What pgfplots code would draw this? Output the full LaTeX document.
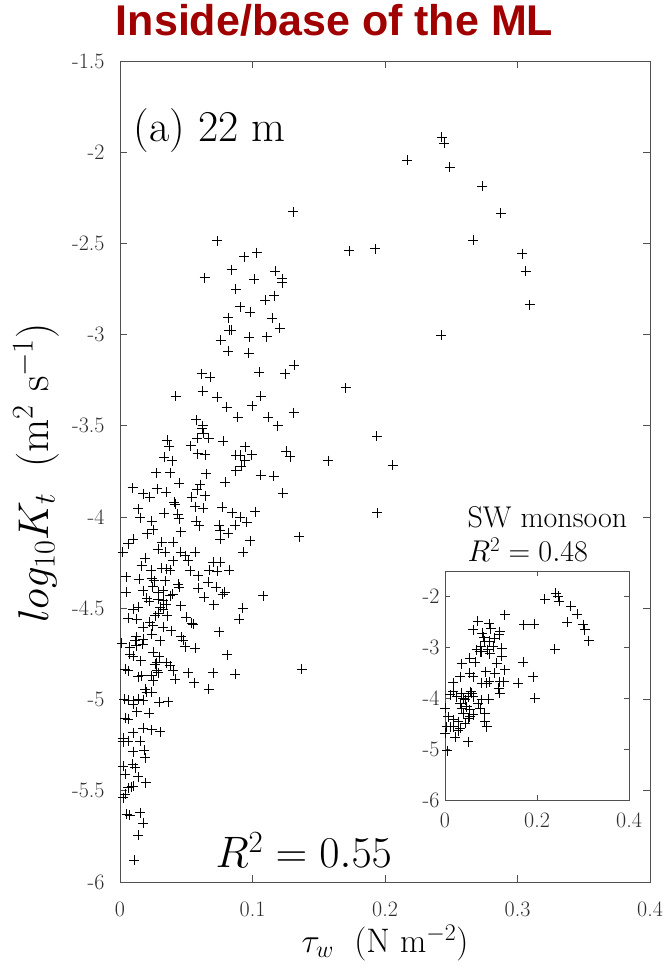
\RequirePackage{fix-cm}
\documentclass[border=0pt]{standalone}
\usepackage{pgfplots}
\pgfplotsset{compat=1.18}
\usepackage{fontspec}
\newfontfamily\titlefont{Liberation Sans}
\definecolor{titlered}{RGB}{160,0,0}
\definecolor{axgray}{RGB}{80,80,80}
\definecolor{lblgray}{RGB}{45,45,45}

\pgfplotstableread{
x y
0.2428 -1.919
0.2445 -1.952
0.2168 -2.043
0.2488 -2.083
0.2735 -2.186
0.2875 -2.333
0.2664 -2.481
0.1731 -2.541
0.1927 -2.528
0.3036 -2.556
0.3062 -2.651
0.3092 -2.835
0.2423 -3.004
0.1308 -2.327
0.0734 -2.486
0.0938 -2.574
0.1031 -2.550
0.0843 -2.643
0.0639 -2.687
0.1011 -2.695
0.1172 -2.653
0.1223 -2.693
0.1225 -2.715
0.0873 -2.751
0.1165 -2.786
0.1097 -2.812
0.0906 -2.848
0.0981 -2.877
0.0818 -2.907
0.1147 -2.911
0.1205 -2.964
0.0825 -2.976
0.0838 -2.976
0.0976 -3.013
0.1109 -3.011
0.0760 -3.031
0.0818 -3.092
0.0971 -3.101
0.0616 -3.214
0.0679 -3.233
0.1052 -3.207
0.1245 -3.214
0.1313 -3.168
0.0420 -3.337
0.0624 -3.310
0.0734 -3.343
0.0805 -3.397
0.0996 -3.390
0.1062 -3.337
0.0888 -3.452
0.1117 -3.452
0.1311 -3.428
0.1190 -3.500
0.0574 -3.467
0.0624 -3.498
0.0619 -3.516
0.0629 -3.540
0.0669 -3.567
0.0584 -3.567
0.0780 -3.584
0.0357 -3.580
0.0370 -3.611
0.0534 -3.609
0.0946 -3.613
0.1253 -3.639
0.1283 -3.668
0.0332 -3.672
0.0395 -3.690
0.0586 -3.653
0.0644 -3.657
0.0875 -3.662
0.0906 -3.662
0.0994 -3.657
0.0943 -3.690
0.0913 -3.721
0.0875 -3.745
0.0272 -3.756
0.0377 -3.756
0.0649 -3.763
0.1062 -3.770
0.1160 -3.776
0.0445 -3.815
0.0795 -3.809
0.0604 -3.822
0.0096 -3.840
0.0282 -3.844
0.0347 -3.864
0.0176 -3.873
0.0226 -3.891
0.0584 -3.851
0.0541 -3.891
0.0642 -3.882
0.1228 -3.869
0.1703 -3.291
0.1937 -3.558
0.1572 -3.690
0.2058 -3.717
0.1942 -3.977
0.1353 -4.107
0.1371 -4.833
0.0410 -3.919
0.0415 -3.928
0.0138 -3.955
0.0566 -3.942
0.0629 -3.952
0.0772 -3.946
0.0848 -3.977
0.1019 -3.970
0.0332 -3.979
0.0435 -3.983
0.0445 -4.010
0.0151 -4.004
0.0239 -4.023
0.0574 -4.023
0.0599 -4.047
0.0906 -4.001
0.0956 -4.029
0.0868 -4.043
0.0750 -4.043
0.0755 -4.074
0.0755 -4.120
0.0818 -4.089
0.0981 -4.129
0.0458 -4.080
0.0206 -4.092
0.0251 -4.070
0.0101 -4.120
0.0063 -4.147
0.0020 -4.193
0.0314 -4.138
0.0402 -4.138
0.0289 -4.175
0.0340 -4.193
0.0458 -4.193
0.0491 -4.211
0.0516 -4.239
0.0566 -4.193
0.0931 -4.193
0.0189 -4.224
0.0402 -4.239
0.0164 -4.266
0.0314 -4.279
0.0352 -4.284
0.0377 -4.290
0.0234 -4.290
0.0528 -4.294
0.0674 -4.290
0.0704 -4.248
0.0755 -4.248
0.0734 -4.297
0.0825 -4.290
0.0591 -4.321
0.0045 -4.327
0.0146 -4.339
0.0239 -4.334
0.0257 -4.349
0.0340 -4.349
0.0440 -4.367
0.0447 -4.385
0.0667 -4.358
0.0725 -4.385
0.0591 -4.389
0.0247 -4.381
0.0045 -4.413
0.0176 -4.403
0.0289 -4.413
0.0327 -4.403
0.0377 -4.431
0.0398 -4.422
0.0775 -4.422
0.0792 -4.413
0.0634 -4.440
0.1082 -4.431
0.0201 -4.444
0.0289 -4.449
0.0327 -4.458
0.0221 -4.462
0.0709 -4.480
0.0458 -4.486
0.0101 -4.504
0.0138 -4.495
0.0302 -4.495
0.0327 -4.504
0.0347 -4.477
0.0926 -4.498
0.0063 -4.553
0.0126 -4.559
0.0264 -4.541
0.0289 -4.528
0.0357 -4.541
0.0498 -4.550
0.0900 -4.559
0.0226 -4.577
0.0247 -4.596
0.0541 -4.583
0.0553 -4.586
0.0176 -4.605
0.0327 -4.605
0.0385 -4.623
0.0750 -4.627
0.0239 -4.641
0.0121 -4.656
0.0113 -4.678
0.0171 -4.696
0.0176 -4.669
0.0302 -4.678
0.0460 -4.656
0.0478 -4.674
0.0013 -4.692
0.0075 -4.714
0.0121 -4.705
0.0491 -4.711
0.0566 -4.718
0.0251 -4.742
0.0810 -4.755
0.0075 -4.751
0.0101 -4.764
0.0297 -4.766
0.0156 -4.788
0.0264 -4.806
0.0277 -4.797
0.0352 -4.797
0.0377 -4.815
0.0038 -4.833
0.0063 -4.843
0.0704 -4.852
0.0868 -4.861
0.0516 -4.852
0.0402 -4.843
0.0277 -4.843
0.0289 -4.852
0.0138 -4.875
0.0164 -4.870
0.0239 -4.870
0.0251 -4.897
0.0415 -4.888
0.0561 -4.907
0.0669 -4.943
0.0189 -4.943
0.0201 -4.961
0.0239 -4.961
0.0030 -4.998
0.0063 -5.003
0.0101 -5.007
0.0138 -4.998
0.0176 -5.003
0.0101 -5.025
0.0297 -5.016
0.0365 -5.011
0.0126 -5.066
0.0219 -5.075
0.0038 -5.102
0.0063 -5.108
0.0176 -5.157
0.0239 -5.166
0.0302 -5.177
0.0025 -5.212
0.0025 -5.230
0.0063 -5.227
0.0101 -5.181
0.0151 -5.227
0.0101 -5.285
0.0184 -5.278
0.0189 -5.318
0.0025 -5.364
0.0038 -5.410
0.0096 -5.355
0.0113 -5.373
0.0138 -5.424
0.0194 -5.455
0.0063 -5.483
0.0088 -5.479
0.0101 -5.474
0.0025 -5.538
0.0038 -5.519
0.0050 -5.629
0.0075 -5.634
0.0151 -5.620
0.0176 -5.678
0.0138 -5.743
0.0108 -5.880
}\maindata

\pgfplotstableread{
x y
0.2409 -1.934
0.2459 -2.000
0.2481 -2.098
0.2170 -2.052
0.2734 -2.197
0.2879 -2.348
0.2662 -2.505
0.3002 -2.557
0.3038 -2.656
0.3125 -2.866
0.2387 -3.036
0.1714 -2.557
0.1939 -2.544
0.1302 -2.361
0.0709 -2.492
0.0615 -2.656
0.0962 -2.538
0.0998 -2.636
0.1194 -2.689
0.1179 -2.754
0.0810 -2.721
0.0846 -2.800
0.0976 -2.885
0.1085 -2.820
0.1049 -2.984
0.0774 -2.984
0.0796 -3.082
0.0926 -3.049
0.1230 -3.016
0.0868 -2.885
0.0687 -3.049
0.0760 -3.082
0.0976 -3.128
0.1230 -3.180
0.1121 -3.311
0.1700 -3.298
0.0542 -3.213
0.0651 -3.292
0.0362 -3.325
0.0882 -3.475
0.1085 -3.508
0.1302 -3.443
0.1917 -3.574
0.1591 -3.705
0.1194 -3.672
0.1953 -4.000
0.1280 -3.672
0.0542 -3.508
0.0615 -3.574
0.0326 -3.574
0.0181 -3.692
0.0904 -3.705
0.0962 -3.672
0.0796 -3.705
0.1172 -3.803
0.1194 -3.902
0.0557 -3.869
0.0579 -3.902
0.0506 -3.967
0.0181 -3.869
0.0109 -3.934
0.0253 -3.967
0.0362 -3.902
0.0398 -4.000
0.0434 -4.033
0.0615 -3.967
0.0796 -4.033
0.0955 -4.020
0.0723 -4.111
0.0760 -4.197
0.0010 -4.197
0.0326 -4.098
0.0362 -4.197
0.0470 -4.164
0.0542 -4.230
0.0615 -4.328
0.0398 -4.295
0.0072 -4.361
0.0181 -4.426
0.0289 -4.459
0.0109 -4.557
0.0506 -4.393
0.0542 -4.361
0.0434 -4.492
0.0868 -4.459
0.0904 -4.557
0.0868 -4.295
0.0036 -4.557
0.0181 -4.557
0.0326 -4.590
0.0289 -4.643
0.0005 -4.689
0.0217 -4.767
0.0506 -4.852
0.0051 -5.030
}\insetdata

\begin{document}
\begin{tikzpicture}[x=1pt,y=1pt]
\useasboundingbox (-120,-91) rectangle (547,882);
\begin{axis}[
  at={(0,0)}, anchor=south west,
  scale only axis, width=530pt, height=821pt,
  xmin=0, xmax=0.4, ymin=-6, ymax=-1.5,
  xtick={0,0.1,0.2,0.3,0.4}, xticklabels={0,0.1,0.2,0.3,0.4},
  ytick={-6,-5.5,-5,-4.5,-4,-3.5,-3,-2.5,-2,-1.5},
  yticklabels={-6,-5.5,-5,-4.5,-4,-3.5,-3,-2.5,-2,-1.5},
  tick align=inside, major tick length=7pt,
  axis line style={axgray, line width=0.9pt},
  every tick/.style={axgray, line width=0.9pt},
  tick label style={font=\fontsize{22}{22}\selectfont, text=lblgray},
  xticklabel style={yshift=-16pt},
  yticklabel style={xshift=-12pt},
]
\addplot[only marks, mark=+, mark size=5pt, mark options={line width=0.9pt}] table[x=x,y=y] {\maindata};
\end{axis}
\begin{axis}[
  at={(325pt,82pt)}, anchor=south west,
  scale only axis, width=184pt, height=229pt,
  xmin=0, xmax=0.4, ymin=-6, ymax=-1.5,
  xtick={0,0.2,0.4}, xticklabels={0,0.2,0.4},
  ytick={-6,-5,-4,-3,-2}, yticklabels={-6,-5,-4,-3,-2},
  tick align=inside, major tick length=5pt,
  axis background/.style={fill=white},
  axis line style={axgray, line width=0.9pt},
  every tick/.style={axgray, line width=0.9pt},
  tick label style={font=\fontsize{22}{22}\selectfont, text=lblgray},
  xticklabel style={yshift=-9pt},
  yticklabel style={xshift=-2pt},
]
\addplot[only marks, mark=+, mark size=5pt, mark options={line width=0.9pt}] table[x=x,y=y] {\insetdata};
\end{axis}
\node[anchor=base, text=titlered, font=\titlefont\bfseries\fontsize{43}{43}\selectfont] at (214.5,846) {Inside/base of the ML};
\node[anchor=base west, font=\fontsize{44}{44}\selectfont] at (10,740) {(a) 22 m};
\node[anchor=base west, font=\fontsize{44}{44}\selectfont] at (92,14) {$R^2 = 0.55$};
\node[anchor=base west, font=\fontsize{30}{30}\selectfont] at (344,354) {SW monsoon};
\node[anchor=base west, font=\fontsize{30}{30}\selectfont] at (344,320) {$R^2 = 0.48$};
\node[rotate=90, font=\fontsize{43}{43}\selectfont] at (-84,409) {$log_{10}K_t\ \ (\mathrm{m}^2\ \mathrm{s}^{-1})$};
\node[font=\fontsize{34}{34}\selectfont] at (265,-61) {$\tau_w\ \ (\mathrm{N}\ \mathrm{m}^{-2})$};
\end{tikzpicture}
\end{document}
